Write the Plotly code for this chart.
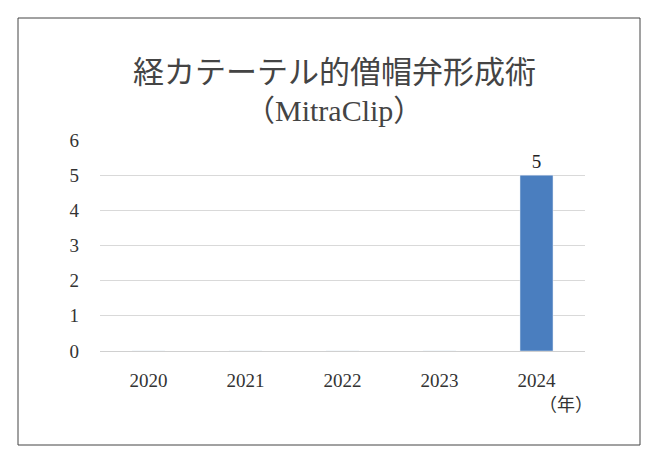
import plotly.graph_objects as go

years = ["2020", "2021", "2022", "2023", "2024"]
counts = [0, 0, 0, 0, 5]
labels = [str(v) if v else "" for v in counts]

fig = go.Figure(go.Bar(x=years, y=counts, text=labels, textposition="outside",
                       marker_color="#4a7ebf", width=0.34,
                       textfont=dict(size=19, color="#222", family="Liberation Serif")))
OFF = 8
L, R, T, B = 100 - OFF, 69 + OFF, 140 - OFF, 107 + OFF
W, H = 654, 458
pw, ph = W - L - R, H - T - B
def px(x): return (x - OFF - L) / pw
def py(y): return (H - B - (y - OFF)) / ph

fig.update_layout(
    width=W, height=H, margin=dict(l=L, r=R, t=T, b=B),
    paper_bgcolor="white", plot_bgcolor="white", showlegend=False,
    font=dict(family="Liberation Serif, Noto Sans CJK JP", color="#333"),
    xaxis=dict(showgrid=False, showline=True, linecolor="#d0d0d0", tickfont=dict(size=19),
               ticks="", ticklabelstandoff=12),
    yaxis=dict(range=[0, 6], dtick=1, showgrid=True, gridcolor="#d9d9d9", zeroline=False,
               tickfont=dict(size=19), ticklabelstandoff=20),
    shapes=[dict(type="rect", xref="paper", yref="paper", x0=px(18), x1=px(640), y0=py(445), y1=py(18),
                 line=dict(color="#444", width=1))],
    annotations=[
        dict(text="経カテーテル的僧帽弁形成術", x=px(334), y=py(45), xref="paper", yref="paper",
             showarrow=False, font=dict(size=31, family="Noto Sans CJK JP", color="#444")),
        dict(text="（MitraClip）", x=px(334), y=py(92), xref="paper", yref="paper",
             showarrow=False, font=dict(size=30, family="Liberation Serif, Noto Sans CJK JP", color="#444")),
        dict(text="（年）", x=px(566), y=py(418), xref="paper", yref="paper", xanchor="center",
             showarrow=False, font=dict(size=18, family="Noto Sans CJK JP", color="#333")),
    ],
)
fig.write_html("out.html")
